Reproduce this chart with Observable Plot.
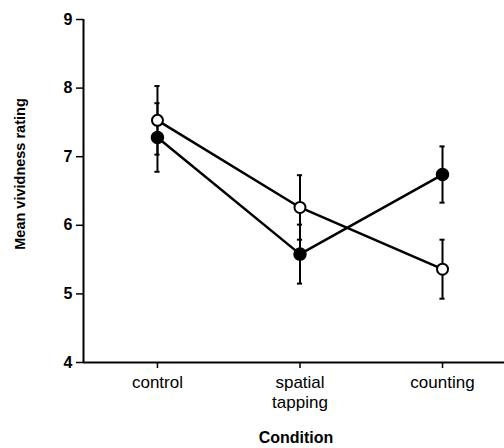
<!DOCTYPE html>
<html>
<head>
<meta charset="utf-8">
<script src="https://cdn.jsdelivr.net/npm/d3@7"></script>
<script src="https://cdn.jsdelivr.net/npm/@observablehq/plot@0.6"></script>
<style>
  html, body { margin: 0; padding: 0; background: #fff; }
  svg { font-family: "Liberation Sans", Arial, Helvetica, sans-serif; }
</style>
</head>
<body>
<div id="chart"></div>
<script>
const categories = ["control", "spatial\ntapping", "counting"];
const openMeans = [7.53, 6.26, 5.36];
const openErr = [0.50, 0.47, 0.43];
const filledMeans = [7.28, 5.58, 6.74];
const filledErr = [0.50, 0.43, 0.41];
const yTicks = [4, 5, 6, 7, 8, 9];
const yTitle = "Mean vividness rating";
const xTitle = "Condition";

const xMin = -0.519, xMax = 2.435;

const rows = [];
categories.forEach((c, i) => {
  rows.push({i, cond: c, series: "open", mean: openMeans[i], err: openErr[i]});
  rows.push({i, cond: c, series: "filled", mean: filledMeans[i], err: filledErr[i]});
});
const caps = rows.flatMap(d => [
  {i: d.i, y: d.mean - d.err},
  {i: d.i, y: d.mean + d.err}
]);

const chart = Plot.plot({
  width: 504,
  height: 448,
  marginLeft: 83,
  marginRight: 0,
  marginTop: 19,
  marginBottom: 86,
  style: {background: "#fff", color: "#000"},
  x: {type: "linear", domain: [xMin, xMax]},
  y: {domain: [4, 9]},
  marks: [
    Plot.ruleY([4], {stroke: "#000", strokeWidth: 2}),
    Plot.ruleX([xMin], {y1: 4, y2: 9, stroke: "#000", strokeWidth: 2}),
    Plot.axisY({ticks: yTicks, tickSize: 7, tickPadding: 4, tickFormat: d => String(d),
      label: null, fontSize: 16, fontWeight: "bold", strokeWidth: 1.5}),
    Plot.axisX({ticks: [0, 1, 2], tickSize: 6, tickPadding: 5, tickFormat: i => categories[i],
      label: null, fontSize: 17, lineHeight: 1.18, strokeWidth: 1.5}),
    Plot.text([yTitle], {frameAnchor: "left", rotate: -90, dx: -63, dy: -17,
      fontSize: 14.5, fontWeight: "bold", textAnchor: "middle", lineAnchor: "middle"}),
    Plot.text([xTitle], {frameAnchor: "bottom", dx: 2, dy: 69,
      fontSize: 16, fontWeight: "bold", textAnchor: "middle", lineAnchor: "top"}),
    Plot.line(rows, {x: "i", y: "mean", z: "series", stroke: "#000", strokeWidth: 2.5}),
    Plot.ruleX(rows, {x: "i", y1: d => d.mean - d.err, y2: d => d.mean + d.err, stroke: "#000", strokeWidth: 2}),
    Plot.ruleY(caps, {y: "y", x1: d => d.i - 0.018, x2: d => d.i + 0.018, stroke: "#000", strokeWidth: 2}),
    Plot.dot(rows.filter(d => d.series === "filled"), {x: "i", y: "mean", r: 6, fill: "#000", stroke: "#000"}),
    Plot.dot(rows.filter(d => d.series === "open"), {x: "i", y: "mean", r: 5.5, fill: "#fff", stroke: "#000", strokeWidth: 2})
  ]
});
document.getElementById("chart").appendChild(chart);
</script>
</body>
</html>
